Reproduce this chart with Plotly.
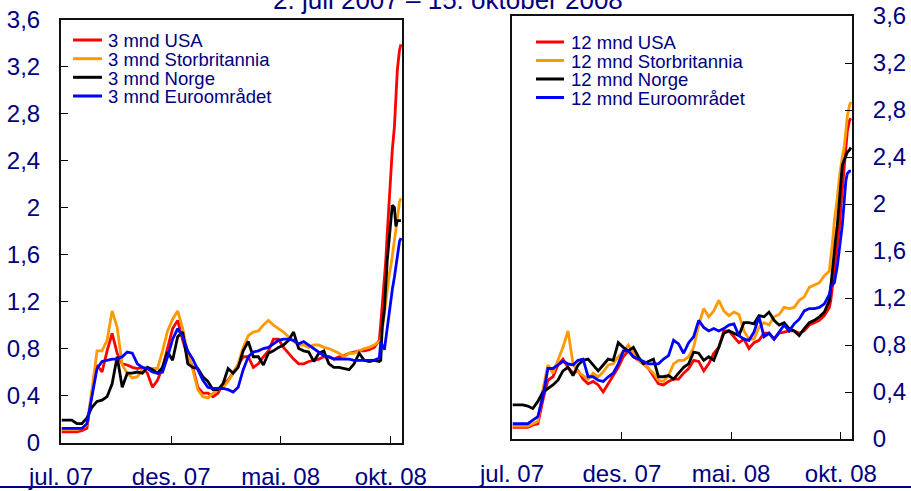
import pandas as pd
import plotly.graph_objects as go

# Weekly observations (Mondays) followed by the turbulent weeks of autumn 2008
weekly_dates = list(pd.date_range("2007-07-02", "2008-09-15", freq="7D").strftime("%Y-%m-%d"))
autumn_dates = ["2008-09-17", "2008-09-19", "2008-09-22", "2008-09-24", "2008-09-26",
                "2008-09-29", "2008-10-01", "2008-10-03", "2008-10-06", "2008-10-08",
                "2008-10-10", "2008-10-13", "2008-10-15"]
dates = weekly_dates + autumn_dates

# 3-month spreads (percentage points)
usa_3m = [0.09, 0.09, 0.09, 0.09, 0.10, 0.12, 0.42, 0.66, 0.60, 0.78,
          0.93, 0.76, 0.67, 0.66, 0.64, 0.63, 0.64, 0.59, 0.47, 0.53,
          0.64, 0.81, 0.97, 1.04, 0.87, 0.73, 0.64, 0.47, 0.42, 0.42,
          0.39, 0.42, 0.50, 0.53, 0.59, 0.66, 0.73, 0.73, 0.64, 0.67,
          0.73, 0.78, 0.88, 0.88, 0.81, 0.76, 0.71, 0.67, 0.67, 0.69,
          0.70, 0.71, 0.73, 0.73, 0.71, 0.73, 0.74, 0.76, 0.77, 0.78,
          0.78, 0.79, 0.81, 0.87,
          1.01, 1.18, 1.35, 1.55, 1.78, 2.12, 2.35, 2.49, 2.69, 2.95, 3.17, 3.34, 3.39]
uk_3m = [0.11, 0.11, 0.11, 0.11, 0.12, 0.15, 0.45, 0.78, 0.78, 0.87,
         1.12, 0.98, 0.66, 0.59, 0.55, 0.56, 0.62, 0.63, 0.63, 0.63,
         0.78, 0.95, 1.05, 1.12, 0.97, 0.76, 0.62, 0.45, 0.39, 0.38,
         0.42, 0.45, 0.47, 0.52, 0.59, 0.67, 0.81, 0.91, 0.94, 0.95,
         1.00, 1.04, 1.00, 0.97, 0.94, 0.90, 0.86, 0.83, 0.83, 0.81,
         0.83, 0.83, 0.81, 0.80, 0.78, 0.76, 0.73, 0.76, 0.76, 0.78,
         0.80, 0.81, 0.83, 0.86,
         0.87, 0.95, 1.10, 1.21, 1.33, 1.44, 1.50, 1.61, 1.72, 1.81, 1.89, 2.05, 2.08]
norge_3m = [0.19, 0.19, 0.19, 0.16, 0.16, 0.21, 0.30, 0.35, 0.36, 0.39,
            0.50, 0.73, 0.47, 0.59, 0.59, 0.60, 0.59, 0.64, 0.62, 0.59,
            0.64, 0.77, 0.70, 0.90, 0.94, 0.67, 0.64, 0.63, 0.56, 0.52,
            0.45, 0.45, 0.50, 0.63, 0.59, 0.64, 0.78, 0.86, 0.73, 0.73,
            0.66, 0.76, 0.78, 0.81, 0.83, 0.87, 0.94, 0.80, 0.78, 0.77,
            0.69, 0.76, 0.78, 0.67, 0.64, 0.64, 0.63, 0.62, 0.67, 0.76,
            0.70, 0.69, 0.70, 0.69,
            0.70, 0.98, 1.13, 1.38, 1.55, 1.75, 1.92, 2.02, 2.00, 1.84, 1.89, 1.89, 1.89]
euro_3m = [0.12, 0.12, 0.12, 0.12, 0.12, 0.16, 0.39, 0.63, 0.69, 0.70,
           0.71, 0.71, 0.73, 0.77, 0.76, 0.67, 0.64, 0.63, 0.60, 0.59,
           0.60, 0.73, 0.88, 0.97, 0.90, 0.78, 0.71, 0.62, 0.53, 0.47,
           0.46, 0.46, 0.46, 0.45, 0.43, 0.47, 0.62, 0.73, 0.77, 0.78,
           0.80, 0.81, 0.84, 0.87, 0.88, 0.88, 0.87, 0.84, 0.86, 0.83,
           0.80, 0.77, 0.74, 0.73, 0.71, 0.71, 0.71, 0.71, 0.70, 0.70,
           0.70, 0.70, 0.70, 0.72,
           0.86, 0.83, 0.79, 0.88, 0.98, 1.10, 1.21, 1.30, 1.41, 1.50, 1.61, 1.71, 1.74]

# 12-month spreads (percentage points)
usa_12m = [0.10, 0.10, 0.10, 0.10, 0.12, 0.13, 0.33, 0.50, 0.53, 0.63,
           0.68, 0.61, 0.56, 0.58, 0.51, 0.47, 0.49, 0.46, 0.40, 0.47,
           0.53, 0.61, 0.70, 0.75, 0.70, 0.67, 0.64, 0.60, 0.54, 0.47,
           0.46, 0.49, 0.51, 0.51, 0.56, 0.60, 0.67, 0.66, 0.58, 0.64,
           0.73, 0.78, 0.92, 0.92, 0.87, 0.82, 0.85, 0.77, 0.82, 0.84,
           0.90, 0.90, 0.85, 0.90, 0.91, 0.92, 0.92, 0.90, 0.92, 0.97,
           0.99, 1.01, 1.05, 1.12,
           1.18, 1.28, 1.45, 1.55, 1.65, 1.81, 1.98, 2.12, 2.37, 2.50, 2.62, 2.71, 2.73]
uk_12m = [0.11, 0.11, 0.11, 0.11, 0.13, 0.15, 0.42, 0.63, 0.56, 0.67,
          0.78, 0.92, 0.64, 0.57, 0.54, 0.51, 0.56, 0.53, 0.57, 0.63,
          0.64, 0.70, 0.74, 0.80, 0.73, 0.67, 0.64, 0.60, 0.56, 0.50,
          0.49, 0.54, 0.64, 0.67, 0.67, 0.70, 0.78, 0.97, 1.11, 1.04,
          1.09, 1.18, 1.09, 1.05, 1.08, 1.06, 0.92, 0.85, 0.85, 0.95,
          0.99, 0.97, 1.04, 1.06, 1.12, 1.11, 1.12, 1.18, 1.21, 1.29,
          1.31, 1.33, 1.39, 1.43,
          1.55, 1.65, 1.86, 1.95, 2.05, 2.23, 2.33, 2.40, 2.50, 2.63, 2.75, 2.84, 2.87]
norge_12m = [0.29, 0.29, 0.29, 0.28, 0.26, 0.32, 0.40, 0.43, 0.46, 0.50,
             0.58, 0.61, 0.54, 0.63, 0.67, 0.68, 0.63, 0.58, 0.63, 0.68,
             0.67, 0.82, 0.78, 0.75, 0.78, 0.70, 0.64, 0.66, 0.68, 0.53,
             0.53, 0.54, 0.51, 0.56, 0.61, 0.64, 0.74, 0.73, 0.67, 0.70,
             0.67, 0.78, 0.90, 0.92, 0.90, 0.88, 0.99, 0.99, 0.98, 1.05,
             1.04, 1.08, 1.01, 0.97, 0.99, 0.94, 0.92, 0.88, 0.94, 0.99,
             1.01, 1.04, 1.08, 1.18,
             1.30, 1.45, 1.60, 1.72, 1.82, 2.03, 2.20, 2.33, 2.38, 2.42, 2.44, 2.46, 2.48]
euro_12m = [0.13, 0.13, 0.13, 0.13, 0.16, 0.19, 0.36, 0.60, 0.60, 0.63,
            0.66, 0.64, 0.63, 0.67, 0.68, 0.53, 0.53, 0.50, 0.49, 0.53,
            0.56, 0.64, 0.75, 0.75, 0.70, 0.68, 0.66, 0.64, 0.64, 0.64,
            0.68, 0.71, 0.84, 0.81, 0.73, 0.82, 0.87, 1.01, 0.95, 0.92,
            0.94, 0.92, 0.94, 0.97, 0.98, 0.88, 0.85, 0.84, 0.91, 1.04,
            0.87, 0.90, 0.85, 0.91, 0.97, 0.92, 0.98, 1.02, 1.09, 1.11,
            1.11, 1.12, 1.15, 1.23,
            1.30, 1.31, 1.33, 1.40, 1.47, 1.62, 1.70, 1.82, 2.05, 2.20, 2.26, 2.28, 2.28]

labels_3m = ["3 mnd USA", "3 mnd Storbritannia", "3 mnd Norge", "3 mnd Euroområdet"]
labels_12m = ["12 mnd USA", "12 mnd Storbritannia", "12 mnd Norge", "12 mnd Euroområdet"]
colors = ["#ff0000", "#ff9900", "#000000", "#0000ff"]

tick_dates = ["2007-07-01", "2007-12-01", "2008-05-01", "2008-10-01"]
tick_text = ["jul. 07", "des. 07", "mai. 08", "okt. 08"]
y_ticks = [0, 0.4, 0.8, 1.2, 1.6, 2.0, 2.4, 2.8, 3.2, 3.6]

title_text = "2. juli 2007 – 15. oktober 2008"

W, H = 911, 491
NAVY = "#000080"
FONT = "Liberation Sans, Arial, sans-serif"


def px(x):
    return x / W


def py(y):
    return 1 - y / H


fig = go.Figure()

for vals, name, col in zip([usa_3m, uk_3m, norge_3m, euro_3m], labels_3m, colors):
    fig.add_trace(go.Scatter(x=dates, y=vals, name=name, mode="lines",
                             line=dict(color=col, width=2.8),
                             xaxis="x", yaxis="y", showlegend=False))
for vals, name, col in zip([usa_12m, uk_12m, norge_12m, euro_12m], labels_12m, colors):
    fig.add_trace(go.Scatter(x=dates, y=vals, name=name, mode="lines",
                             line=dict(color=col, width=2.8),
                             xaxis="x2", yaxis="y2", showlegend=False))

x_common = dict(type="date", range=["2007-07-01", "2008-10-16 12:00"],
                tickmode="array", tickvals=tick_dates, ticktext=tick_text,
                ticks="inside", ticklen=7, tickwidth=1, tickcolor="black",
                showline=True, linecolor="#111", linewidth=2, mirror=True,
                showgrid=False, zeroline=False, ticklabelstandoff=12,
                automargin=False,
                tickfont=dict(family=FONT, size=24, color=NAVY))
y_common = dict(range=[0, 3.6], tickmode="array", tickvals=y_ticks,
                ticks="inside", ticklen=7, tickwidth=1, tickcolor="black",
                showline=True, linecolor="#111", linewidth=2, mirror=True,
                showgrid=False, zeroline=False, ticklabelstandoff=14,
                automargin=False,
                tickfont=dict(family=FONT, size=24, color=NAVY))

fig.update_layout(
    width=W, height=H,
    margin=dict(l=0, r=0, t=0, b=0, pad=0),
    paper_bgcolor="white", plot_bgcolor="white",
    separators=", ",
    showlegend=False,
    xaxis=dict(domain=[px(61), px(402)], anchor="y", **x_common),
    yaxis=dict(domain=[py(442.5), py(19.7)], anchor="x", side="left", **y_common),
    xaxis2=dict(domain=[px(512), px(852)], anchor="y2", **x_common),
    yaxis2=dict(domain=[py(439), py(16)], anchor="x2", side="right", **y_common),
)

# Hand-drawn legends: short colored strokes with labels
shapes = []
annotations = []
legend_specs = [
    (labels_3m, 73, 102, 106, [40, 58.7, 77.3, 96]),
    (labels_12m, 536, 564, 569, [42, 60.5, 79, 97.5]),
]
for labels, x0, x1, xt, rows in legend_specs:
    for lab, col, yr in zip(labels, colors, rows):
        shapes.append(dict(type="line", xref="paper", yref="paper",
                           x0=px(x0), x1=px(x1), y0=py(yr), y1=py(yr),
                           line=dict(color=col, width=3)))
        annotations.append(dict(text=lab, xref="paper", yref="paper",
                                x=px(xt), y=py(yr + 0.8), xanchor="left", yanchor="middle",
                                showarrow=False,
                                font=dict(family=FONT, size=18.5, color=NAVY)))

# Period heading along the top edge
annotations.append(dict(text=title_text, xref="paper", yref="paper",
                        x=px(448), y=1.0, xanchor="center", yanchor="middle",
                        showarrow=False,
                        font=dict(family=FONT, size=26, color=NAVY)))

# Rule along the bottom of the figure
shapes.append(dict(type="line", xref="paper", yref="paper",
                   x0=0, x1=1, y0=py(487), y1=py(487),
                   line=dict(color=NAVY, width=2)))

fig.update_layout(shapes=shapes, annotations=annotations)

fig.write_html("out.html")
